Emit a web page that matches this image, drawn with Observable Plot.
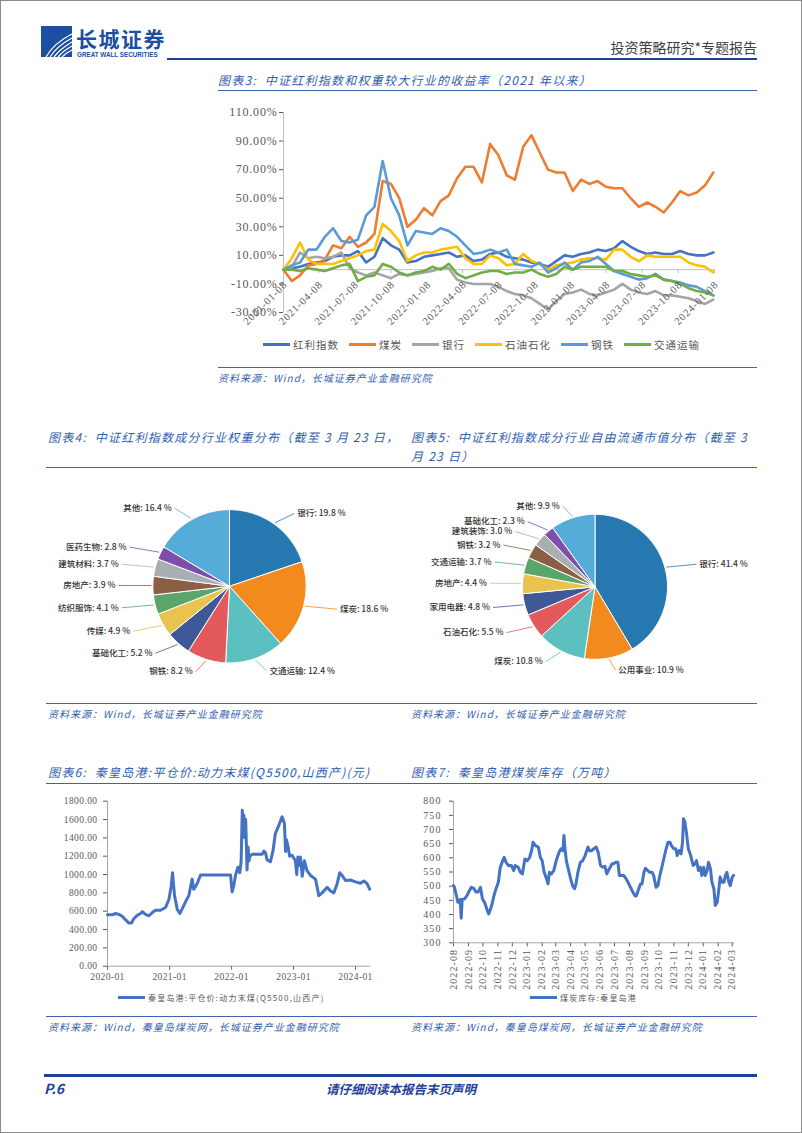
<!DOCTYPE html>
<html><head><meta charset="utf-8">
<script src="https://cdn.jsdelivr.net/npm/d3@7"></script>
<script src="https://cdn.jsdelivr.net/npm/@observablehq/plot@0.6"></script>
<style>
html,body{margin:0;padding:0;background:#fff;}
#page{position:relative;width:802px;height:1133px;overflow:hidden;font-family:"Noto Sans CJK SC",sans-serif;background:#fff;}
.abs{position:absolute;white-space:nowrap;}
.title{font-size:12px;line-height:16px;font-style:italic;color:#3061ad;letter-spacing:1.25px;}
.src{font-size:10px;line-height:14px;font-style:italic;color:#3061ad;letter-spacing:1px;}
.hl{position:absolute;height:0;border-top:1.5px solid #3c63ae;}
.leg{display:flex;align-items:center;font-size:10.5px;color:#595959;letter-spacing:1px;}
.leg .it{display:flex;align-items:center;margin-right:10px;}
.leg .sw{width:27px;height:3px;margin-right:3px;}
.leg2{display:flex;align-items:center;font-size:8px;color:#595959;letter-spacing:1.2px;}
.leg2 .sw{width:27px;height:3px;margin-right:3px;background:#4472c4;}
</style></head>
<body>
<div id="page">
  <div class="abs" style="left:0;top:0;width:800px;height:1131px;border:1px solid #8c8c8c;"></div>
  <svg class="abs" style="left:41px;top:26px" width="32" height="32">
    <rect x="0" y="0" width="31" height="31" fill="#1c4fa0"/>
    <g fill="none" stroke="#fff" stroke-width="1.3">
      <path d="M5 31 Q 13 17 31 8"/>
      <path d="M9 31 Q 16 20 31 12"/>
      <path d="M13 31 Q 19 23 31 16"/>
      <path d="M17 31 Q 22 25 31 20"/>
      <path d="M21 31 Q 25 27 31 24"/>
    </g>
  </svg>
  <div class="abs" style="left:76px;top:27px;font-size:21px;font-weight:700;color:#1c4fa0;line-height:23px;letter-spacing:1.5px;">长城证券</div>
  <div class="abs" style="left:77px;top:51px;font:bold 6.3px/8px 'Liberation Sans',sans-serif;color:#1c4fa0;">GREAT WALL SECURITIES</div>
  <div class="abs" style="right:45px;top:38px;font-size:14px;color:#404040;line-height:18px;">投资策略研究*专题报告</div>
  <div class="hl" style="left:167px;top:58px;width:590px;border-top:2px solid #1f3f8f;"></div>

  <div class="abs title" style="left:218px;top:72px;">图表3:&nbsp; 中证红利指数和权重较大行业的收益率（2021 年以来）</div>
  <div class="hl" style="left:218px;top:90px;width:539px;"></div>
  <div id="leg3" class="abs leg" style="left:263px;top:336px;height:16px;"></div>
  <div class="hl" style="left:218px;top:367px;width:539px;"></div>
  <div class="abs src" style="left:218px;top:371px;">资料来源：Wind，长城证券产业金融研究院</div>

  <div class="abs title" style="left:48px;top:429px;width:352px;overflow:hidden;">图表4:&nbsp; 中证红利指数成分行业权重分布（截至 3 月 23 日，</div>
  <div class="abs title" style="left:411px;top:429px;width:346px;overflow:hidden;">图表5:&nbsp; 中证红利指数成分行业自由流通市值分布（截至 3</div>
  <div class="abs title" style="left:411px;top:448px;">月 23 日）</div>
  <div class="hl" style="left:46px;top:467px;width:711px;"></div>
  <div class="hl" style="left:46px;top:703px;width:711px;"></div>
  <div class="abs src" style="left:48px;top:707px;">资料来源：Wind，长城证券产业金融研究院</div>
  <div class="abs src" style="left:411px;top:707px;">资料来源：Wind，长城证券产业金融研究院</div>

  <div class="abs title" style="left:48px;top:764px;">图表6:&nbsp; 秦皇岛港:平仓价:动力末煤(Q5500,山西产)(元)</div>
  <div class="abs title" style="left:411px;top:764px;">图表7:&nbsp; 秦皇岛港煤炭库存（万吨）</div>
  <div class="hl" style="left:46px;top:783px;width:711px;"></div>
  <div class="abs leg2" style="left:118px;top:990px;height:14px;"><div class="sw"></div><span>秦皇岛港:平仓价:动力末煤(Q5500,山西产)</span></div>
  <div class="abs leg2" style="left:530px;top:990px;height:14px;"><div class="sw"></div><span>煤炭库存:秦皇岛港</span></div>
  <div class="hl" style="left:46px;top:1016px;width:711px;"></div>
  <div class="abs src" style="left:48px;top:1020px;">资料来源：Wind，秦皇岛煤炭网，长城证券产业金融研究院</div>
  <div class="abs src" style="left:411px;top:1020px;">资料来源：Wind，秦皇岛煤炭网，长城证券产业金融研究院</div>

  <div class="hl" style="left:44px;top:1074px;width:713px;border-top:3px solid #1f3f99;"></div>
  <div class="abs" style="left:44px;top:1080px;font-size:14px;line-height:17px;font-weight:700;font-style:italic;color:#1f3f99;">P.6</div>
  <div class="abs" style="left:326px;top:1080px;width:150px;text-align:center;font-size:12.5px;line-height:17px;font-weight:700;font-style:italic;color:#1f3f99;">请仔细阅读本报告末页声明</div>
</div>
<script>
// ---------- Chart 3 data (returns since 2021, %) ----------
const series3Names = ["红利指数","煤炭","银行","石油石化","钢铁","交通运输"];
const series3Colors = ["#4472c4","#ed7d31","#a5a5a5","#ffc000","#5b9bd5","#70ad47"];
const start3 = "2021-01-08";
const stepDays3 = 21;
const hongli = [0,1,2,4,5,6,9,10,10,13,5,9,22,17,14,5,6,9,10,11,12,9,10,6,7,11,12,9,8,7,5,4,2,6,10,9,11,12,14,13,15,20,16,13,11,12,11,11,13,11,10,10,12];
const meitan = [0,-8,-4,3,4,7,17,15,23,16,19,25,62,60,50,30,35,43,38,48,52,64,72,72,61,88,80,66,63,86,94,82,70,68,68,55,63,60,62,58,57,57,50,44,47,44,40,47,55,52,54,59,68];
const yinhang = [0,2,12,8,9,8,9,12,1,-2,-4,-2,-4,-6,-3,-4,-3,-2,-1,1,1,-7,-9,-10,-10,-10,-12,-15,-17,-18,-20,-24,-28,-22,-17,-16,-14,-17,-18,-16,-14,-10,-14,-16,-17,-15,-18,-18,-19,-20,-22,-24,-21];
const shiyou = [0,8,19,7,4,4,4,6,8,10,13,14,32,27,20,6,10,12,12,14,15,16,8,4,4,10,8,3,4,11,6,4,0,3,4,5,7,8,8,7,14,14,9,6,10,9,9,9,9,5,3,2,-2];
const gangtie = [0,3,5,14,14,23,29,20,19,21,38,44,76,50,38,17,27,26,25,29,27,23,17,11,12,14,12,14,4,3,2,5,-2,1,5,0,5,6,9,4,-1,-3,-5,-7,-6,-3,-7,-8,-9,-11,-12,-15,-18];
const jiaotong = [0,0,-1,1,0,-1,1,3,4,-8,-5,-4,4,2,-2,-4,-2,-1,2,0,4,-3,-6,-4,-2,-1,-1,-3,-2,-2,0,-3,-5,-3,2,0,2,2,2,2,-1,-1,-3,-4,-5,-4,-7,-8,-10,-13,-15,-16,-18];
const xTicks3 = ["2021-01-08","2021-04-08","2021-07-08","2021-10-08","2022-01-08","2022-04-08","2022-07-08","2022-10-08","2023-01-08","2023-04-08","2023-07-08","2023-10-08","2024-01-08"];
const yTicks3 = [-30,-10,10,30,50,70,90,110];

// ---------- Pie 4: weights ----------
const pie4Names = ["银行","煤炭","交通运输","钢铁","基础化工","传媒","纺织服饰","房地产","建筑材料","医药生物","其他"];
const pie4Values = [19.8,18.6,12.4,8.2,5.2,4.9,4.1,3.9,3.7,2.8,16.4];
// ---------- Pie 5: free-float market cap ----------
const pie5Names = ["银行","公用事业","煤炭","石油石化","家用电器","房地产","交通运输","钢铁","建筑装饰","基础化工","其他"];
const pie5Values = [41.4,10.9,10.8,5.5,4.8,4.4,3.7,3.2,3.0,2.3,9.9];
const pieColors = ["#2778b0","#f28a1e","#5cbfc0","#e35a5c","#3e5997","#e9c24f","#5aa56b","#8b5f46","#a9aeb3","#7d4fab","#56acd9"];

// ---------- Chart 6: Qinhuangdao price ----------
const priceDates = ["2020-01-01","2020-01-28","2020-02-17","2020-03-08","2020-03-28","2020-04-17","2020-05-06","2020-05-20","2020-06-05","2020-06-24","2020-07-14","2020-07-24","2020-08-12","2020-09-01","2020-09-21","2020-10-10","2020-11-08","2020-12-08","2020-12-28","2021-01-10","2021-01-18","2021-01-30","2021-02-15","2021-03-02","2021-03-16","2021-04-04","2021-04-24","2021-05-14","2021-05-23","2021-06-12","2021-07-02","2021-12-26","2022-01-04","2022-01-14","2022-01-24","2022-02-07","2022-02-18","2022-02-26","2022-03-05","2022-03-09","2022-03-14","2022-03-20","2022-03-25","2022-04-02","2022-04-08","2022-04-14","2022-04-18","2022-05-02","2022-05-31","2022-06-30","2022-07-10","2022-07-19","2022-07-29","2022-08-18","2022-09-02","2022-09-16","2022-10-05","2022-10-25","2022-11-08","2022-11-15","2022-11-20","2022-11-30","2022-12-09","2022-12-23","2023-01-12","2023-01-20","2023-01-26","2023-02-05","2023-02-11","2023-02-21","2023-03-06","2023-03-22","2023-04-11","2023-05-10","2023-05-30","2023-06-18","2023-07-18","2023-08-07","2023-08-26","2023-09-15","2023-09-30","2023-10-14","2023-11-03","2023-12-02","2024-01-01","2024-01-30","2024-02-19","2024-03-09","2024-03-24"];
const priceValues = [560,560,575,565,545,505,470,470,520,555,575,595,565,550,585,610,610,640,730,870,1020,770,620,575,625,700,770,950,840,900,995,995,810,880,990,1080,1020,1140,1700,1420,1650,1400,1600,1050,1300,1150,1200,1220,1220,1220,1255,1240,1160,1140,1260,1450,1530,1630,1560,1250,1380,1300,1200,1210,1150,1000,1190,1100,1190,980,1150,1040,990,950,770,800,860,820,800,900,1020,990,935,940,920,905,930,900,840];
const xTicks6 = ["2020-01","2021-01","2022-01","2023-01","2024-01"];
const yTicks6 = [0,200,400,600,800,1000,1200,1400,1600,1800];

// ---------- Chart 7: Qinhuangdao coal stock ----------
const stockDates = ["2022-08-01","2022-08-03","2022-08-07","2022-08-10","2022-08-15","2022-08-17","2022-08-19","2022-08-24","2022-08-29","2022-09-02","2022-09-07","2022-09-12","2022-09-17","2022-09-21","2022-09-26","2022-09-30","2022-10-05","2022-10-10","2022-10-13","2022-10-17","2022-10-20","2022-10-24","2022-10-27","2022-11-02","2022-11-06","2022-11-11","2022-11-14","2022-11-18","2022-11-23","2022-11-29","2022-12-04","2022-12-07","2022-12-13","2022-12-18","2022-12-22","2022-12-27","2023-01-01","2023-01-06","2023-01-10","2023-01-13","2023-01-18","2023-01-24","2023-01-28","2023-02-01","2023-02-05","2023-02-09","2023-02-13","2023-02-16","2023-02-20","2023-02-25","2023-03-02","2023-03-08","2023-03-12","2023-03-16","2023-03-18","2023-03-20","2023-03-23","2023-03-27","2023-04-01","2023-04-05","2023-04-09","2023-04-12","2023-04-16","2023-04-21","2023-04-26","2023-05-01","2023-05-07","2023-05-10","2023-05-14","2023-05-19","2023-05-24","2023-05-28","2023-06-02","2023-06-06","2023-06-11","2023-06-15","2023-06-20","2023-06-26","2023-06-29","2023-07-03","2023-07-08","2023-07-11","2023-07-15","2023-07-20","2023-07-25","2023-07-29","2023-08-03","2023-08-08","2023-08-12","2023-08-15","2023-08-19","2023-08-24","2023-08-27","2023-08-31","2023-09-03","2023-09-08","2023-09-12","2023-09-17","2023-09-20","2023-09-25","2023-09-29","2023-10-03","2023-10-08","2023-10-11","2023-10-16","2023-10-20","2023-10-24","2023-10-27","2023-11-01","2023-11-05","2023-11-08","2023-11-12","2023-11-16","2023-11-19","2023-11-21","2023-11-24","2023-11-27","2023-12-01","2023-12-06","2023-12-11","2023-12-15","2023-12-18","2023-12-22","2023-12-26","2023-12-29","2024-01-02","2024-01-05","2024-01-09","2024-01-12","2024-01-16","2024-01-19","2024-01-23","2024-01-26","2024-01-30","2024-02-02","2024-02-05","2024-02-09","2024-02-13","2024-02-16","2024-02-19","2024-02-23","2024-02-26","2024-03-01","2024-03-04"];
const stockValues = [502,496,467,443,453,387,453,455,467,481,496,492,479,479,496,455,441,414,402,420,437,467,485,514,567,590,602,584,573,573,555,573,567,549,543,596,590,602,626,655,643,638,602,590,549,531,508,549,543,555,590,620,632,625,679,637,590,561,526,502,491,508,549,584,590,608,638,625,625,632,638,620,573,567,570,543,561,579,579,584,584,538,538,538,526,514,496,479,467,465,485,508,508,549,563,555,549,549,538,496,502,538,573,596,632,655,655,643,632,632,608,626,614,655,738,726,690,632,608,573,579,590,555,567,538,567,538,555,584,561,514,491,432,443,485,532,514,514,538,549,514,502,532,538];
const xTicks7 = ["2022-08","2022-09","2022-10","2022-11","2022-12","2023-01","2023-02","2023-03","2023-04","2023-05","2023-06","2023-07","2023-08","2023-09","2023-10","2023-11","2023-12","2024-01","2024-02","2024-03"];
const yTicks7 = [300,350,400,450,500,550,600,650,700,750,800];

// ---------- helpers ----------
const pDay = d3.utcParse("%Y-%m-%d");
const pMonth = d3.utcParse("%Y-%m");
const page = document.getElementById("page");
function place(node, left, top, w, h) {
  const d = document.createElement("div");
  d.className = "abs";
  Object.assign(d.style, {left: left + "px", top: top + "px", width: w + "px", height: h + "px"});
  d.appendChild(node);
  page.appendChild(d);
}

// ---------- Chart 3 ----------
{
  const seriesVals = [hongli, meitan, yinhang, shiyou, gangtie, jiaotong];
  const t0 = pDay(start3);
  const rows = [];
  seriesVals.forEach((vals, s) => vals.forEach((v, i) => rows.push({date: d3.utcDay.offset(t0, stepDays3 * i), v, name: series3Names[s]})));
  const tickDates = xTicks3.map(pDay);
  const W = 520, H = 245;
  const chart = Plot.plot({
    width: W, height: H, marginLeft: 73, marginRight: 16, marginTop: 12, marginBottom: 33,
    style: {fontFamily: "'Liberation Serif', serif", fontSize: "12px", color: "#595959", letterSpacing: "0.8px", background: "transparent", overflow: "visible"},
    x: {type: "utc", domain: [tickDates[0], tickDates[tickDates.length - 1]], axis: null},
    y: {domain: [-30, 110], ticks: yTicks3, tickFormat: d => d.toFixed(2) + "%", tickSize: 4, tickPadding: 2, label: null},
    color: {domain: series3Names, range: series3Colors},
    marks: [
      Plot.ruleX([tickDates[0]], {stroke: "#bfbfbf"}),
      Plot.ruleY([0], {stroke: "#bfbfbf"}),
      Plot.ruleX(tickDates, {y1: 0, y2: -2.6, stroke: "#bfbfbf"}),
      Plot.line(rows, {x: "date", y: "v", z: "name", stroke: "name", strokeWidth: 2.6, strokeLinejoin: "round"}),
      Plot.text(xTicks3, {x: d => pDay(d), y: -10, text: d => d, rotate: -45, textAnchor: "end", dx: 2, dy: -1, fontSize: 10.5, fill: "#595959"})
    ]
  });
  place(chart, 210, 100, W, H);
  const leg = document.getElementById("leg3");
  series3Names.forEach((n, i) => {
    const it = document.createElement("div"); it.className = "it";
    it.innerHTML = `<div class="sw" style="background:${series3Colors[i]}"></div><span>${n}</span>`;
    leg.appendChild(it);
  });
}

// ---------- Pies ----------
function pieChart(names, values, colors, W, H, cx, cy, r) {
  const items = names.map((n, i) => ({name: n, v: values[i], color: colors[i]}));
  const arcs = d3.pie().sort(null).value(d => d.v)(items);
  const slices = arcs.map(a => {
    const n = Math.max(2, Math.ceil((a.endAngle - a.startAngle) / 0.03));
    const pts = [{x: 0, y: 0}];
    for (let k = 0; k <= n; k++) {
      const t = a.startAngle + (a.endAngle - a.startAngle) * k / n;
      pts.push({x: Math.sin(t), y: Math.cos(t)});
    }
    pts.push({x: 0, y: 0});
    return {color: a.data.color, pts};
  });
  const labels = arcs.map(a => {
    const m = (a.startAngle + a.endAngle) / 2, s = Math.sin(m), c = Math.cos(m);
    return {x1: 1.02 * s, y1: 1.02 * c, x2: 1.45 * s, y2: 1.17 * c, right: s >= 0, color: a.data.color,
      text: `${a.data.name}: ${a.data.v.toFixed(1)} %`};
  });
  const tOpts = {x: "x2", y: "y2", text: "text", fontSize: 8.5, fontWeight: 500, fill: "#333"};
  return Plot.plot({
    width: W, height: H, margin: 0,
    style: {fontFamily: "'Noto Sans CJK SC', sans-serif", background: "transparent", overflow: "visible"},
    x: {domain: [-cx / r, (W - cx) / r], axis: null},
    y: {domain: [-(H - cy) / r, cy / r], axis: null},
    color: {type: "identity"},
    marks: [
      ...slices.map(s => Plot.line(s.pts, {x: "x", y: "y", fill: s.color, stroke: "#fff", strokeWidth: 1})),
      Plot.link(labels, {x1: "x1", y1: "y1", x2: "x2", y2: "y2", stroke: "color", strokeWidth: 0.8}),
      Plot.text(labels.filter(d => d.right), {...tOpts, textAnchor: "start", dx: 3}),
      Plot.text(labels.filter(d => !d.right), {...tOpts, textAnchor: "end", dx: -3})
    ]
  });
}
place(pieChart(pie4Names, pie4Values, pieColors, 360, 232, 189, 115.8, 76.6), 40, 470, 360, 232);
place(pieChart(pie5Names, pie5Values, pieColors, 355, 232, 192.5, 116.3, 72.5), 402, 470, 355, 232);

// ---------- Chart 6 ----------
{
  const rows = priceDates.map((d, i) => ({date: pDay(d), v: priceValues[i]}));
  const W = 330, H = 195;
  const x0 = pDay("2020-01-01");
  const chart = Plot.plot({
    width: W, height: H, marginLeft: 57, marginRight: 9.7, marginTop: 7.7, marginBottom: 22.3,
    style: {fontFamily: "'Liberation Serif', serif", fontSize: "9.5px", color: "#595959", letterSpacing: "0.4px", background: "transparent", overflow: "visible"},
    x: {type: "utc", domain: [x0, pDay("2024-03-31")], ticks: xTicks6.map(pMonth), tickFormat: d3.utcFormat("%Y-%m"), tickSize: 4, tickPadding: 3, label: null},
    y: {domain: [0, 1800], ticks: yTicks6, tickFormat: d => d.toFixed(2), tickSize: 4, tickPadding: 6, label: null},
    marks: [
      Plot.ruleX([x0], {stroke: "#a6a6a6"}),
      Plot.ruleY([0], {stroke: "#a6a6a6"}),
      Plot.line(rows, {x: "date", y: "v", stroke: "#4472c4", strokeWidth: 3, strokeLinejoin: "round"})
    ]
  });
  place(chart, 50, 793, W, H);
}

// ---------- Chart 7 ----------
{
  const rows = stockDates.map((d, i) => ({date: pDay(d), v: stockValues[i]}));
  const W = 340, H = 205;
  const x0 = pDay("2022-08-01");
  const chart = Plot.plot({
    width: W, height: H, marginLeft: 51, marginRight: 7.9, marginTop: 7.7, marginBottom: 55.7,
    style: {fontFamily: "'Liberation Serif', serif", fontSize: "10px", color: "#595959", letterSpacing: "1.1px", background: "transparent", overflow: "visible"},
    x: {type: "utc", domain: [x0, pDay("2024-03-06")], ticks: xTicks7.map(pMonth), tickFormat: d3.utcFormat("%Y-%m"), tickRotate: -90, tickSize: 4, tickPadding: 2, label: null},
    y: {domain: [300, 800], ticks: yTicks7, tickSize: 4, tickPadding: 8, label: null},
    marks: [
      Plot.ruleX([x0], {stroke: "#a6a6a6"}),
      Plot.ruleY([300], {stroke: "#a6a6a6"}),
      Plot.line(rows, {x: "date", y: "v", stroke: "#4472c4", strokeWidth: 3, strokeLinejoin: "round"})
    ]
  });
  place(chart, 402, 793, W, H);
}
</script>
</body></html>
